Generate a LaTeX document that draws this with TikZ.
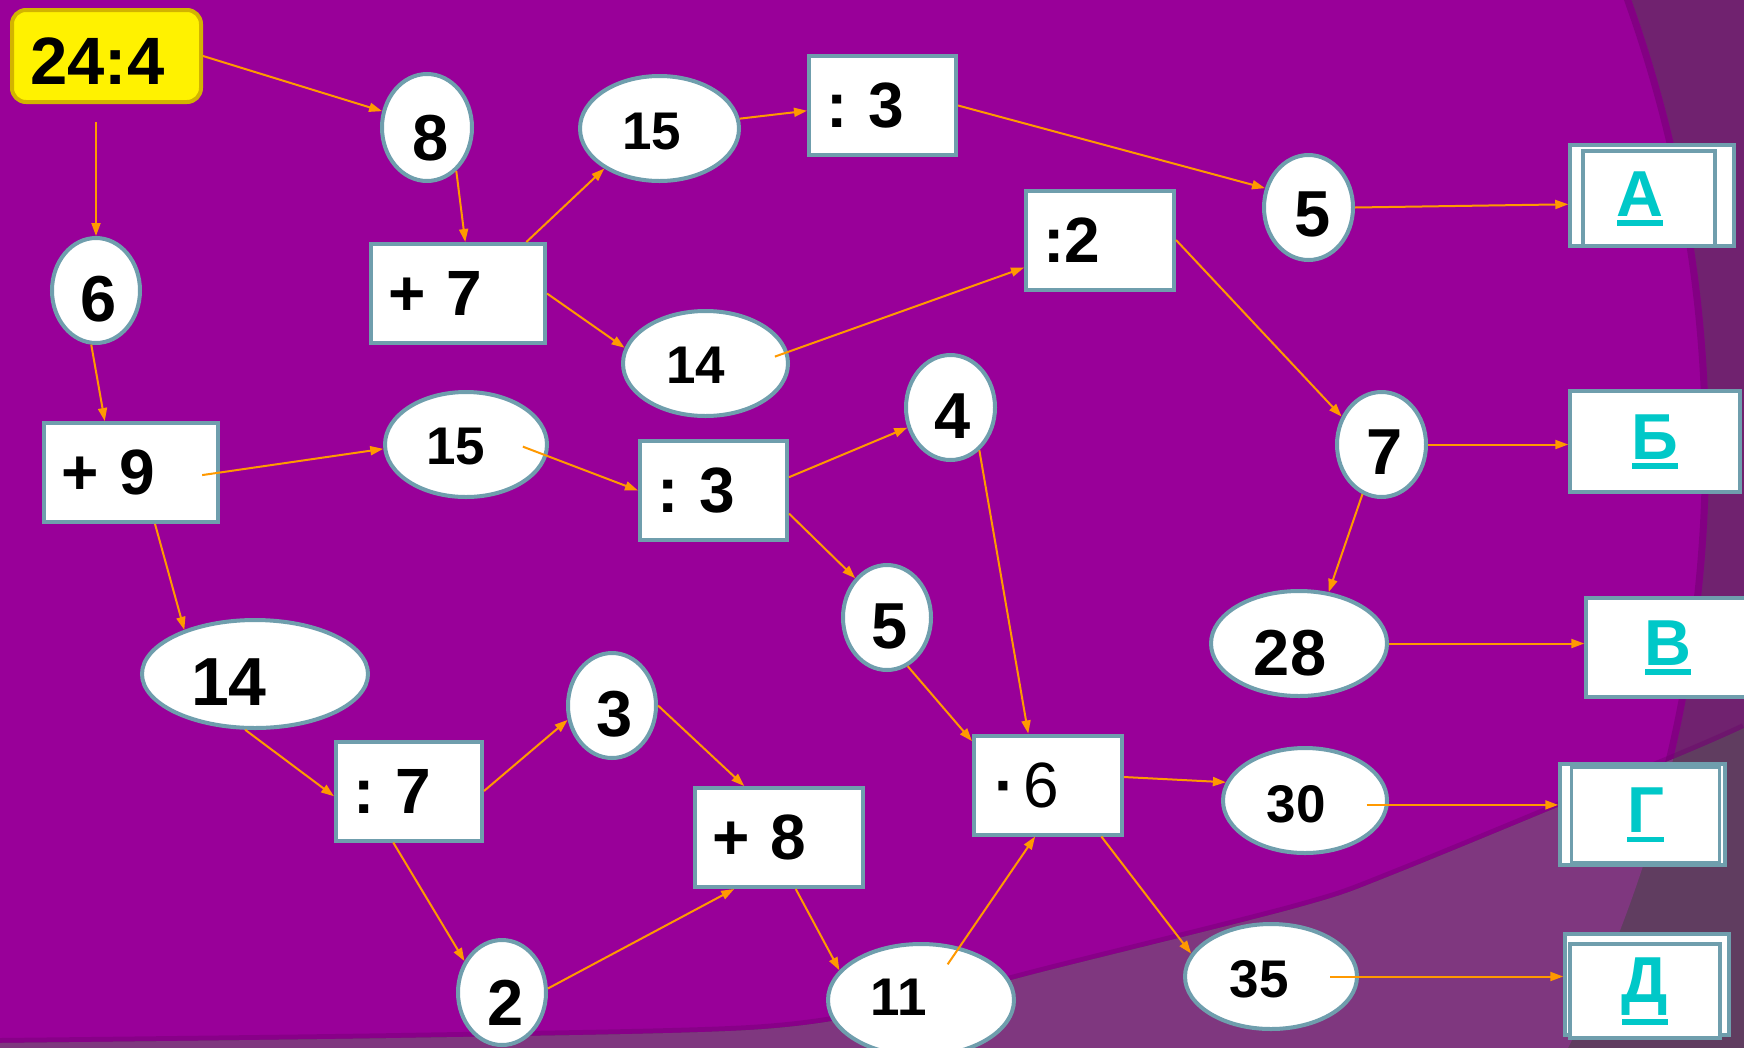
\documentclass[tikz,border=0pt]{standalone}
\usepackage{fontspec}
\setmainfont{Liberation Sans}
\usetikzlibrary{shapes.geometric,arrows.meta,calc}
\definecolor{mainp}{HTML}{990099}
\definecolor{outc}{HTML}{70226F}
\definecolor{bandc}{HTML}{7F377F}
\definecolor{darkout}{HTML}{603D60}
\definecolor{shadowc}{HTML}{6A006A}
\definecolor{edgec}{HTML}{6F9EAD}
\definecolor{arrc}{HTML}{FF9900}
\definecolor{linkc}{HTML}{00C8C8}
\definecolor{goldc}{HTML}{D2B400}
\frenchspacing
\newcommand\shiftnum[3]{\raisebox{-#2}[\height][0pt]{\kern#1\relax#3\kern-#1\relax}}
\newcommand\ulletter[1]{\setbox0=\hbox{#1}\vtop{\copy0\kern4pt\hrule height 5.5pt width \wd0}}
\tikzset{
  ell/.style={ellipse, draw=edgec, line width=4pt, fill=white, inner sep=0pt,
    minimum height=105pt, font=\bfseries\fontsize{65}{70}\selectfont},
  smallnum/.style={font=\bfseries\fontsize{53}{60}\selectfont},
  opbox/.style={rectangle, draw=edgec, line width=4pt, fill=white, inner xsep=17pt,
    inner ysep=0pt, minimum height=99pt, align=left, text width=#1,
    font=\bfseries\fontsize{64}{70}\selectfont},
  lbox/.style={rectangle, draw=edgec, line width=3.5pt, fill=white, inner sep=0pt},
  lettr/.style={text=linkc, font=\bfseries\fontsize{65}{70}\selectfont},
  yel/.style={rectangle, rounded corners=14pt, draw=goldc, line width=4pt, fill=yellow,
    minimum width=189pt, minimum height=92pt, inner sep=0pt,
    font=\bfseries\fontsize{67}{72}\selectfont},
  arr/.style={draw=arrc, line width=2pt, -{Triangle[length=13pt,width=9pt]}}
}
\begin{document}
\begin{tikzpicture}[x=1pt,y=-1pt]
\useasboundingbox (0,0) rectangle (1744,1047);
% background
\fill[outc] (0,0) rectangle (1744,1047);
\fill[mainp] (373,450) circle[radius=1336pt];
\begin{scope}
  \clip (373,450) circle[radius=1336pt];
  \draw[line width=14pt, draw=shadowc, opacity=0.45] (373,450) circle[radius=1336pt];
\end{scope}
\draw[line width=10pt, draw=shadowc, opacity=0.35]
  plot[smooth] coordinates {(0,1043) (400,1038) (750,1030) (900,1008) (1050,970) (1300,907) (1400,872) (1678,757) (1744,728)};
\begin{scope}
  \clip plot[smooth] coordinates {(0,1043) (400,1038) (750,1030) (900,1008) (1050,970) (1300,907) (1400,872) (1678,757) (1744,728)}
    -- (1760,1070) -- (-10,1070) -- cycle;
  \fill[darkout] (-10,0) rectangle (1760,1070);
  \fill[bandc] (373,450) circle[radius=1336pt];
\end{scope}

% start node
\node[yel] (T) at (106.5,56) {\shiftnum{-9pt}{5pt}{24:4}};

% ellipses
\node[ell, minimum width=90pt, minimum height=107pt] (E8) at (427,127.5) {\shiftnum{4pt}{10pt}{8}};
\node[ell, minimum width=88pt] (E6) at (96,290.5) {\shiftnum{3pt}{8pt}{6}};
\node[ell, smallnum, minimum width=159pt] (E15a) at (659.5,128.5) {\shiftnum{-8pt}{3pt}{15}};
\node[ell, minimum width=89pt] (E5a) at (1308.5,207.5) {\shiftnum{4pt}{7pt}{5}};
\node[ell, smallnum, minimum width=165pt] (E14a) at (705.5,363.5) {\shiftnum{-10pt}{2pt}{14}};
\node[ell, minimum width=89pt] (E4) at (950.5,407.5) {\shiftnum{2pt}{9pt}{4}};
\node[ell, smallnum, minimum width=162pt] (E15b) at (466,444.5) {\shiftnum{-10pt}{2pt}{15}};
\node[ell, minimum width=89pt] (E7) at (1381.5,444.5) {\shiftnum{3pt}{8pt}{7}};
\node[ell, minimum width=88pt] (E5b) at (887,617.5) {\shiftnum{3pt}{9pt}{5}};
\node[ell, font=\bfseries\fontsize{68}{72}\selectfont, minimum width=226pt, minimum height=108pt] (E14b) at (255,674) {\shiftnum{-26pt}{8pt}{14}};
\node[ell, minimum width=176pt] (E28) at (1299,643.5) {\shiftnum{-9pt}{9pt}{28}};
\node[ell, minimum width=88pt] (E3) at (612,705.5) {\shiftnum{3pt}{8pt}{3}};
\node[ell, smallnum, minimum width=164pt] (E30) at (1305,800.5) {\shiftnum{-9pt}{3pt}{30}};
\node[ell, minimum width=88pt] (E2) at (502,992.5) {\shiftnum{4pt}{10pt}{2}};
\node[ell, smallnum, minimum width=186pt, minimum height=112pt] (E11) at (921,1000) {\shiftnum{-22pt}{-3pt}{11}};
\node[ell, smallnum, minimum width=172pt] (E35) at (1271,976.5) {\shiftnum{-12pt}{2pt}{35}};

% operation boxes
\node[opbox=140pt] (B7) at (458,293.5) {+ 7};
\node[opbox=113pt] (B3a) at (882.5,105.5) {: 3};
\node[opbox=114pt] (B2) at (1100,240) {:2};
\node[opbox=140pt] (B9) at (131,472.5) {+ 9};
\node[opbox=113pt] (B3b) at (713.5,490.5) {: 3};
\node[opbox=112pt] (B7b) at (409,791) {: 7};
\node[opbox=114pt, font=\fontsize{64}{70}\selectfont] (B6) at (1048,785) {\kern3pt{\bfseries ·}\kern8pt 6};
\node[opbox=134pt] (B8) at (779,837.5) {+ 8};

% answer boxes
\node[lbox, minimum width=164pt, minimum height=101pt] (BAo) at (1652,195.5) {};
\node[lbox, line width=4pt, minimum width=132pt, minimum height=95pt, lettr] (BA) at (1649,198.5) {\kern-9pt\ulletter{А}\kern9pt};
\node[lbox, minimum width=170pt, minimum height=101pt, lettr] (BB) at (1655,441.5) {\ulletter{Б}};
\node[lbox, minimum width=174pt, minimum height=99pt, lettr] (BV) at (1673,647.5) {\kern-5pt\ulletter{В}\kern5pt};
\node[lbox, minimum width=165pt, minimum height=101pt] (BGo) at (1642.5,814.5) {};
\node[lbox, line width=3pt, minimum width=148pt, minimum height=95pt, lettr] (BG) at (1645.5,815) {\ulletter{Г}};
\node[lbox, minimum width=164pt, minimum height=101pt] (BDo) at (1647,984.5) {};
\node[lbox, line width=4pt, minimum width=150pt, minimum height=94pt, lettr] (BD) at (1645,991) {\ulletter{Д}};

% connectors
\draw[arr] (T.east) -- (E8.160);
\draw[arr, shorten <=18pt] (E6.north |- T.south) -- (E6.north);
\draw[arr] (E8.-56) -- (B7.82);
\draw[arr] (B7.37) -- (E15a.216);
\draw[arr] (E15a.7) -- (B3a.184);
\draw[arr] (B3a.east) -- (E5a.156);
\draw[arr] (E5a.east) -- (BAo.186);
\draw[arr] (B7.east) -- (E14a.169);
\draw[arr, shorten <=-14pt] (E14a.8) -- (B2.200);
\draw[arr] (B2.east) -- (E7.145);
\draw[arr] (E7.east) -- (E7.east -| BB.west);
\draw[arr] (E7.-111) -- (E28.60);
\draw[arr] (E28.east) -- (E28.east -| BV.west);
\draw[arr] (E6.-95) -- (B9.117);
\draw[arr, shorten <=-18pt] (B9.east) -- (E15b.183);
\draw[arr, shorten <=-26pt] (E15b.-8) -- (B3b.west);
\draw[arr] (B3b.10) -- (E4.205);
\draw[arr] (B3b.-17) -- (E5b.129);
\draw[arr] (E4.-56) -- (B6.111);
\draw[arr] (E5b.-67) -- (B6.150);
\draw[arr] (B9.-65) -- (E14b.148);
\draw[arr] (E14b.-100) -- (B7b.184);
\draw[arr] (B7b.east) -- (E3.198);
\draw[arr] (B7b.-107) -- (E2.140);
\draw[arr] (E3.east) -- (B8.124);
\draw[arr] (E2.5) -- (B8.229);
\draw[arr] (B8.-72) -- (E11.160);
\draw[arr, shorten <=-21pt] (E11.54) -- (B6.-104);
\draw[arr] (B6.6) -- (E30.167);
\draw[arr] (B6.-44) -- (E35.164);
\draw[arr, shorten <=-22pt] (E30.-3) -- (E30.-3 -| BGo.west);
\draw[arr, shorten <=-29pt] (E35.east) -- (E35.east -| BDo.west);
\end{tikzpicture}
\end{document}
